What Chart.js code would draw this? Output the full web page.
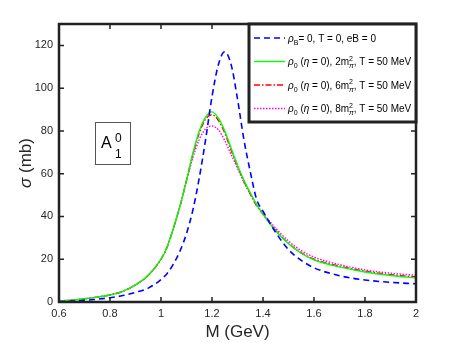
<!DOCTYPE html>
<html>
<head>
<meta charset="utf-8">
<script src="https://cdn.jsdelivr.net/npm/chart.js@4.4.1/dist/chart.umd.min.js"></script>
<style>
  body { margin: 0; background: #fff; }
  canvas { display: block; }
</style>
</head>
<body>
<canvas id="sigma-chart" width="458" height="343"></canvas>
<script>
// mass grid (GeV) and cross sections (mb)
const massGeV = [0.6, 0.65, 0.7, 0.75, 0.8, 0.85, 0.9, 0.95, 1.0, 1.025, 1.05, 1.075, 1.1, 1.125, 1.15, 1.175,
  1.2, 1.225, 1.25, 1.275, 1.3, 1.325, 1.35, 1.375, 1.4, 1.45, 1.5, 1.55, 1.6, 1.7, 1.8, 1.9, 2.0];

const vacuum = [0.2, 0.4, 0.8, 1.3, 2, 3, 4.5, 6.5, 10.5, 13.5, 18, 24, 32, 43, 58, 76,
  96, 111, 117, 111, 95, 76, 61, 48, 42.5, 32.5, 24.5, 19.5, 16, 12.3, 10.3, 9.2, 8.5];
const field2 = [0.5, 0.9, 1.5, 2.3, 3.3, 5.0, 8.0, 12.5, 20, 26, 35, 45, 57, 69.5, 80, 86.5,
  88.9, 86, 80, 72, 64, 57, 51, 45.5, 41, 33.3, 27.2, 22.8, 19.7, 16.4, 14, 12.4, 11.3];
const field6 = [0.5, 0.9, 1.5, 2.3, 3.3, 5.0, 8.0, 12.5, 20, 26, 35, 45, 57, 69, 79, 85.5,
  87.6, 85, 79, 71, 63.5, 56.5, 50.5, 45, 41, 33.5, 27.5, 23, 20, 16.8, 14.4, 12.8, 11.7];
const field8 = [0.5, 0.9, 1.5, 2.3, 3.3, 5.0, 8.0, 12.5, 20, 26, 35, 45, 56.5, 67.5, 76, 81,
  82.3, 80.5, 75.5, 69, 62.5, 56, 50.5, 45.5, 41.5, 34.5, 28.5, 24, 21, 17.5, 15, 13.5, 12.5];

const xTicks = [0.6, 0.8, 1, 1.2, 1.4, 1.6, 1.8, 2];
const yTicks = [0, 20, 40, 60, 80, 100, 120];

const toPoints = (ys) => ys.map((y, i) => ({ x: massGeV[i], y: y }));

const AXIS_COLOR = '#222';
const FONT = '"Liberation Sans", Arial, Helvetica, sans-serif';

// draw a run of text pieces: {t, it, sub, sup, stack:[sup, sub]}
function drawRich(ctx, parts, x, y, size) {
  ctx.textBaseline = 'alphabetic';
  ctx.textAlign = 'left';
  parts.forEach(p => {
    if (p.stack) {
      ctx.font = (size * 0.7) + 'px ' + FONT;
      ctx.fillText(p.stack[0], x, y - size * 0.42);
      ctx.font = 'italic ' + (size * 0.7) + 'px ' + FONT;
      ctx.fillText(p.stack[1], x, y + size * 0.3);
      x += Math.max(ctx.measureText(p.stack[0]).width, ctx.measureText(p.stack[1]).width);
      return;
    }
    const s = (p.sub || p.sup) ? size * 0.7 : size;
    ctx.font = (p.it ? 'italic ' : '') + s + 'px ' + FONT;
    const dy = p.sub ? size * 0.3 : (p.sup ? -size * 0.42 : 0);
    ctx.fillText(p.t, x, y + dy);
    x += ctx.measureText(p.t).width;
  });
}

function richWidth(ctx, parts, size) {
  let w = 0;
  parts.forEach(p => {
    const s = (p.sub || p.sup) ? size * 0.7 : size;
    ctx.font = (p.it ? 'italic ' : '') + s + 'px ' + FONT;
    w += ctx.measureText(p.t).width;
  });
  return w;
}

const legendRows = [
  [{ t: 'ρ', it: true }, { t: 'B', sub: true }, { t: '= 0, T = 0, eB = 0' }],
  [{ t: 'ρ', it: true }, { t: '0', sub: true }, { t: ' (' }, { t: 'η', it: true }, { t: ' = 0), 2m' }, { stack: ['2', 'π'] }, { t: ', T = 50 MeV' }],
  [{ t: 'ρ', it: true }, { t: '0', sub: true }, { t: ' (' }, { t: 'η', it: true }, { t: ' = 0), 6m' }, { stack: ['2', 'π'] }, { t: ', T = 50 MeV' }],
  [{ t: 'ρ', it: true }, { t: '0', sub: true }, { t: ' (' }, { t: 'η', it: true }, { t: ' = 0), 8m' }, { stack: ['2', 'π'] }, { t: ', T = 50 MeV' }]
];
const yTitle = [{ t: 'σ', it: true }, { t: ' (mb)' }];

const frame = {
  id: 'frame',
  afterDatasetsDraw(chart) {
    const { ctx, chartArea: a, scales } = chart;
    ctx.save();
    // inward tick marks on all four sides
    ctx.strokeStyle = AXIS_COLOR;
    ctx.lineWidth = 1.5;
    ctx.beginPath();
    xTicks.forEach(v => {
      const px = scales.x.getPixelForValue(v);
      ctx.moveTo(px, a.bottom); ctx.lineTo(px, a.bottom - 5);
      ctx.moveTo(px, a.top); ctx.lineTo(px, a.top + 5);
    });
    yTicks.forEach(v => {
      const py = scales.y.getPixelForValue(v);
      ctx.moveTo(a.left, py); ctx.lineTo(a.left + 5, py);
      ctx.moveTo(a.right, py); ctx.lineTo(a.right - 5, py);
    });
    ctx.stroke();
    // box
    ctx.lineWidth = 2.5;
    ctx.strokeRect(a.left, a.top, a.right - a.left, a.bottom - a.top);

    // legend box in the upper right corner
    const lx = 249, ly = a.top, lw = a.right - 249, lh = 98;
    ctx.fillStyle = '#fff';
    ctx.fillRect(lx, ly, lw, lh);
    ctx.lineWidth = 3;
    ctx.strokeRect(lx, ly, lw, lh);
    chart.data.datasets.forEach((ds, i) => {
      const ry = ly + 14 + i * 23.5;
      ctx.strokeStyle = ds.borderColor;
      ctx.lineWidth = ds.borderWidth;
      ctx.setLineDash(ds.borderDash || []);
      ctx.beginPath();
      ctx.moveTo(254, ry); ctx.lineTo(285, ry);
      ctx.stroke();
      ctx.setLineDash([]);
      ctx.fillStyle = '#000';
      drawRich(ctx, legendRows[i], 288, ry + 3.5, 10);
    });

    // A_1^0 label box
    ctx.strokeStyle = '#555';
    ctx.lineWidth = 1;
    ctx.strokeRect(95.5, 122.5, 35, 42);
    ctx.fillStyle = '#000';
    ctx.font = '16px ' + FONT;
    ctx.textBaseline = 'alphabetic';
    ctx.textAlign = 'left';
    ctx.fillText('A', 101, 147.5);
    ctx.font = '12px ' + FONT;
    ctx.fillText('0', 115, 142);
    ctx.fillText('1', 115, 158);

    // y axis title with italic sigma
    ctx.fillStyle = '#262626';
    const w = richWidth(ctx, yTitle, 17);
    ctx.translate(31, (a.top + a.bottom) / 2);
    ctx.rotate(-Math.PI / 2);
    drawRich(ctx, yTitle, -w / 2, 0, 17);
    ctx.restore();
  }
};

const ctx = document.getElementById('sigma-chart');
new Chart(ctx, {
  type: 'line',
  data: {
    datasets: [
      { label: 'rhoB = 0, T = 0, eB = 0', data: toPoints(vacuum), borderColor: '#0000ff', borderWidth: 1.6, borderDash: [6, 4] },
      { label: 'rho0, 2m_pi^2, T = 50 MeV', data: toPoints(field2), borderColor: '#00ff00', borderWidth: 1.4 },
      { label: 'rho0, 6m_pi^2, T = 50 MeV', data: toPoints(field6), borderColor: '#ff0000', borderWidth: 1.4, borderDash: [6, 2, 1.5, 2] },
      { label: 'rho0, 8m_pi^2, T = 50 MeV', data: toPoints(field8), borderColor: '#ff00ff', borderWidth: 1.4, borderDash: [1.5, 1.5] }
    ]
  },
  options: {
    responsive: false,
    animation: false,
    parsing: false,
    elements: {
      point: { radius: 0 },
      line: { cubicInterpolationMode: 'monotone', fill: false }
    },
    layout: { padding: { left: 0, top: 24, right: 42, bottom: 0 } },
    plugins: {
      legend: { display: false },
      tooltip: { enabled: false }
    },
    scales: {
      x: {
        type: 'linear',
        min: 0.6,
        max: 2,
        afterBuildTicks: (s) => { s.ticks = xTicks.map(v => ({ value: v })); },
        afterFit: (s) => { s.height = 41; },
        grid: { display: false, drawTicks: false },
        border: { display: false },
        ticks: {
          padding: 5,
          color: '#262626',
          font: { family: FONT, size: 11 },
          callback: (v) => String(v)
        },
        title: {
          display: true,
          text: 'M (GeV)',
          color: '#262626',
          padding: { top: 2, bottom: 0 },
          font: { family: FONT, size: 17 }
        }
      },
      y: {
        min: 0,
        max: 130,
        afterBuildTicks: (s) => { s.ticks = yTicks.map(v => ({ value: v })); },
        afterFit: (s) => { s.width = 59; },
        grid: { display: false, drawTicks: false },
        border: { display: false },
        ticks: {
          padding: 6,
          color: '#262626',
          font: { family: FONT, size: 11 }
        },
        title: { display: false }
      }
    }
  },
  plugins: [frame]
});
</script>
</body>
</html>
